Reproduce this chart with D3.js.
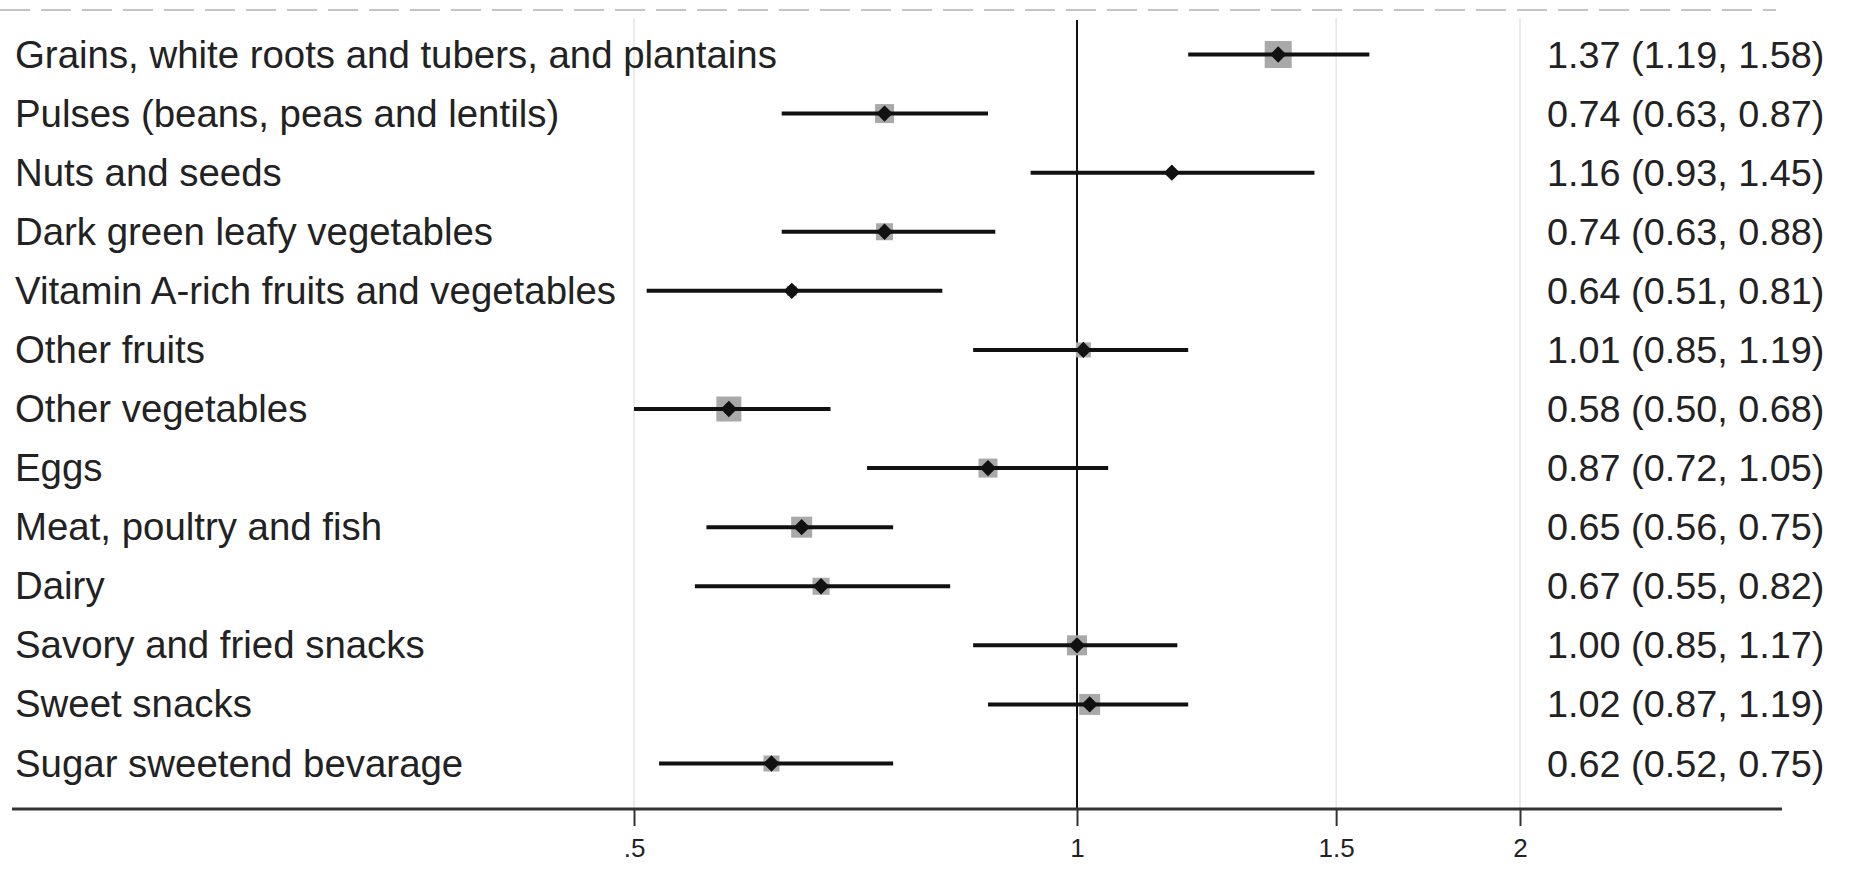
<!DOCTYPE html>
<html>
<head>
<meta charset="utf-8">
<script src="https://cdn.jsdelivr.net/npm/d3@7"></script>
<style>
    html, body { margin: 0; padding: 0; background: #fff; }
    svg { display: block; font-family: "Liberation Sans", Arial, sans-serif; }
</style>
</head>
<body>
<div id="forest"></div>
<script>

// data
var groups = [
    "Grains, white roots and tubers, and plantains",
    "Pulses (beans, peas and lentils)",
    "Nuts and seeds",
    "Dark green leafy vegetables",
    "Vitamin A-rich fruits and vegetables",
    "Other fruits",
    "Other vegetables",
    "Eggs",
    "Meat, poultry and fish",
    "Dairy",
    "Savory and fried snacks",
    "Sweet snacks",
    "Sugar sweetend bevarage"
];
var estimate = [1.37, 0.74, 1.16, 0.74, 0.64, 1.01, 0.58, 0.87, 0.65, 0.67, 1.00, 1.02, 0.62];
var lower    = [1.19, 0.63, 0.93, 0.63, 0.51, 0.85, 0.50, 0.72, 0.56, 0.55, 0.85, 0.87, 0.52];
var upper    = [1.58, 0.87, 1.45, 0.88, 0.81, 1.19, 0.68, 1.05, 0.75, 0.82, 1.17, 1.19, 0.75];
// relative study weights (size of the grey boxes)
var weights  = [27, 19, 7, 17, 10, 15, 25, 19, 21, 17, 20, 21, 16];
var tickValues = [0.5, 1, 1.5, 2];
var tickLabels = [".5", "1", "1.5", "2"];

var width = 1851, height = 876;

var svg = d3.select("#forest").append("svg")
    .attr("width", width)
    .attr("height", height);

// log x scale, pinned so that .5 and 2 land where they do in the picture
var xBase = d3.scaleLog().domain([0.5, 2]).range([634, 1520]);
var x = xBase.copy()
    .domain([xBase.invert(12), xBase.invert(1782)])
    .range([12, 1782]);

var y = d3.scalePoint()
    .domain(groups)
    .range([54.5, 763.5]);

var axisY = 809;

// dashed line on top
svg.append("line")
    .attr("x1", 0).attr("x2", 1776)
    .attr("y1", 10).attr("y2", 10)
    .attr("stroke", "#c4c4c4")
    .attr("stroke-width", 2)
    .attr("stroke-dasharray", "30,11");

// light grid lines
svg.selectAll(".grid")
    .data(tickValues.filter(function(d) { return d !== 1; }))
    .enter().append("line")
    .attr("class", "grid")
    .attr("x1", function(d) { return x(d); })
    .attr("x2", function(d) { return x(d); })
    .attr("y1", 18)
    .attr("y2", axisY)
    .attr("stroke", "#e6e6e6")
    .attr("stroke-width", 1.5);

// no-effect line
svg.append("line")
    .attr("x1", x(1)).attr("x2", x(1))
    .attr("y1", 20).attr("y2", axisY)
    .attr("stroke", "#111")
    .attr("stroke-width", 2);

// x axis
var xAxis = svg.append("g")
    .attr("transform", "translate(0," + axisY + ")")
    .call(d3.axisBottom(x)
        .tickValues(tickValues)
        .tickFormat(function(d, i) { return tickLabels[i]; })
        .tickSize(17)
        .tickSizeOuter(0));

xAxis.select(".domain")
    .attr("d", "M12,0H1782")
    .attr("stroke", "#333")
    .attr("stroke-width", 3);
xAxis.selectAll(".tick line")
    .attr("stroke", "#333")
    .attr("stroke-width", 2);
xAxis.selectAll(".tick text")
    .attr("y", 48)
    .attr("dy", 0)
    .attr("fill", "#222")
    .style("font-family", "'Liberation Sans', Arial, sans-serif")
    .style("font-size", "26px");

// rows
var rows = svg.selectAll(".row")
    .data(groups)
    .enter().append("g")
    .attr("class", "row")
    .attr("transform", function(d) { return "translate(0," + y(d) + ")"; });

// weight boxes
rows.append("rect")
    .attr("x", function(d, i) { return x(estimate[i]) - weights[i] / 2; })
    .attr("y", function(d, i) { return -weights[i] / 2; })
    .attr("width", function(d, i) { return weights[i]; })
    .attr("height", function(d, i) { return weights[i]; })
    .attr("fill", "#a9a9a9");

// confidence intervals
rows.append("line")
    .attr("x1", function(d, i) { return x(lower[i]); })
    .attr("x2", function(d, i) { return x(upper[i]); })
    .attr("y1", 0).attr("y2", 0)
    .attr("stroke", "#111")
    .attr("stroke-width", 4);

// point estimates
rows.append("path")
    .attr("d", d3.symbol().type(d3.symbolDiamond2).size(170))
    .attr("transform", function(d, i) { return "translate(" + x(estimate[i]) + ",0)"; })
    .attr("fill", "#111");

// labels on the left
rows.append("text")
    .attr("x", 15)
    .attr("y", 13)
    .attr("fill", "#222")
    .style("font-size", "38.4px")
    .text(function(d) { return d; });

// estimates on the right
rows.append("text")
    .attr("x", 1547)
    .attr("y", 13)
    .attr("fill", "#222")
    .style("font-size", "37.8px")
    .text(function(d, i) {
        return estimate[i].toFixed(2) + " (" + lower[i].toFixed(2) + ", " + upper[i].toFixed(2) + ")";
    });

</script>
</body>
</html>
